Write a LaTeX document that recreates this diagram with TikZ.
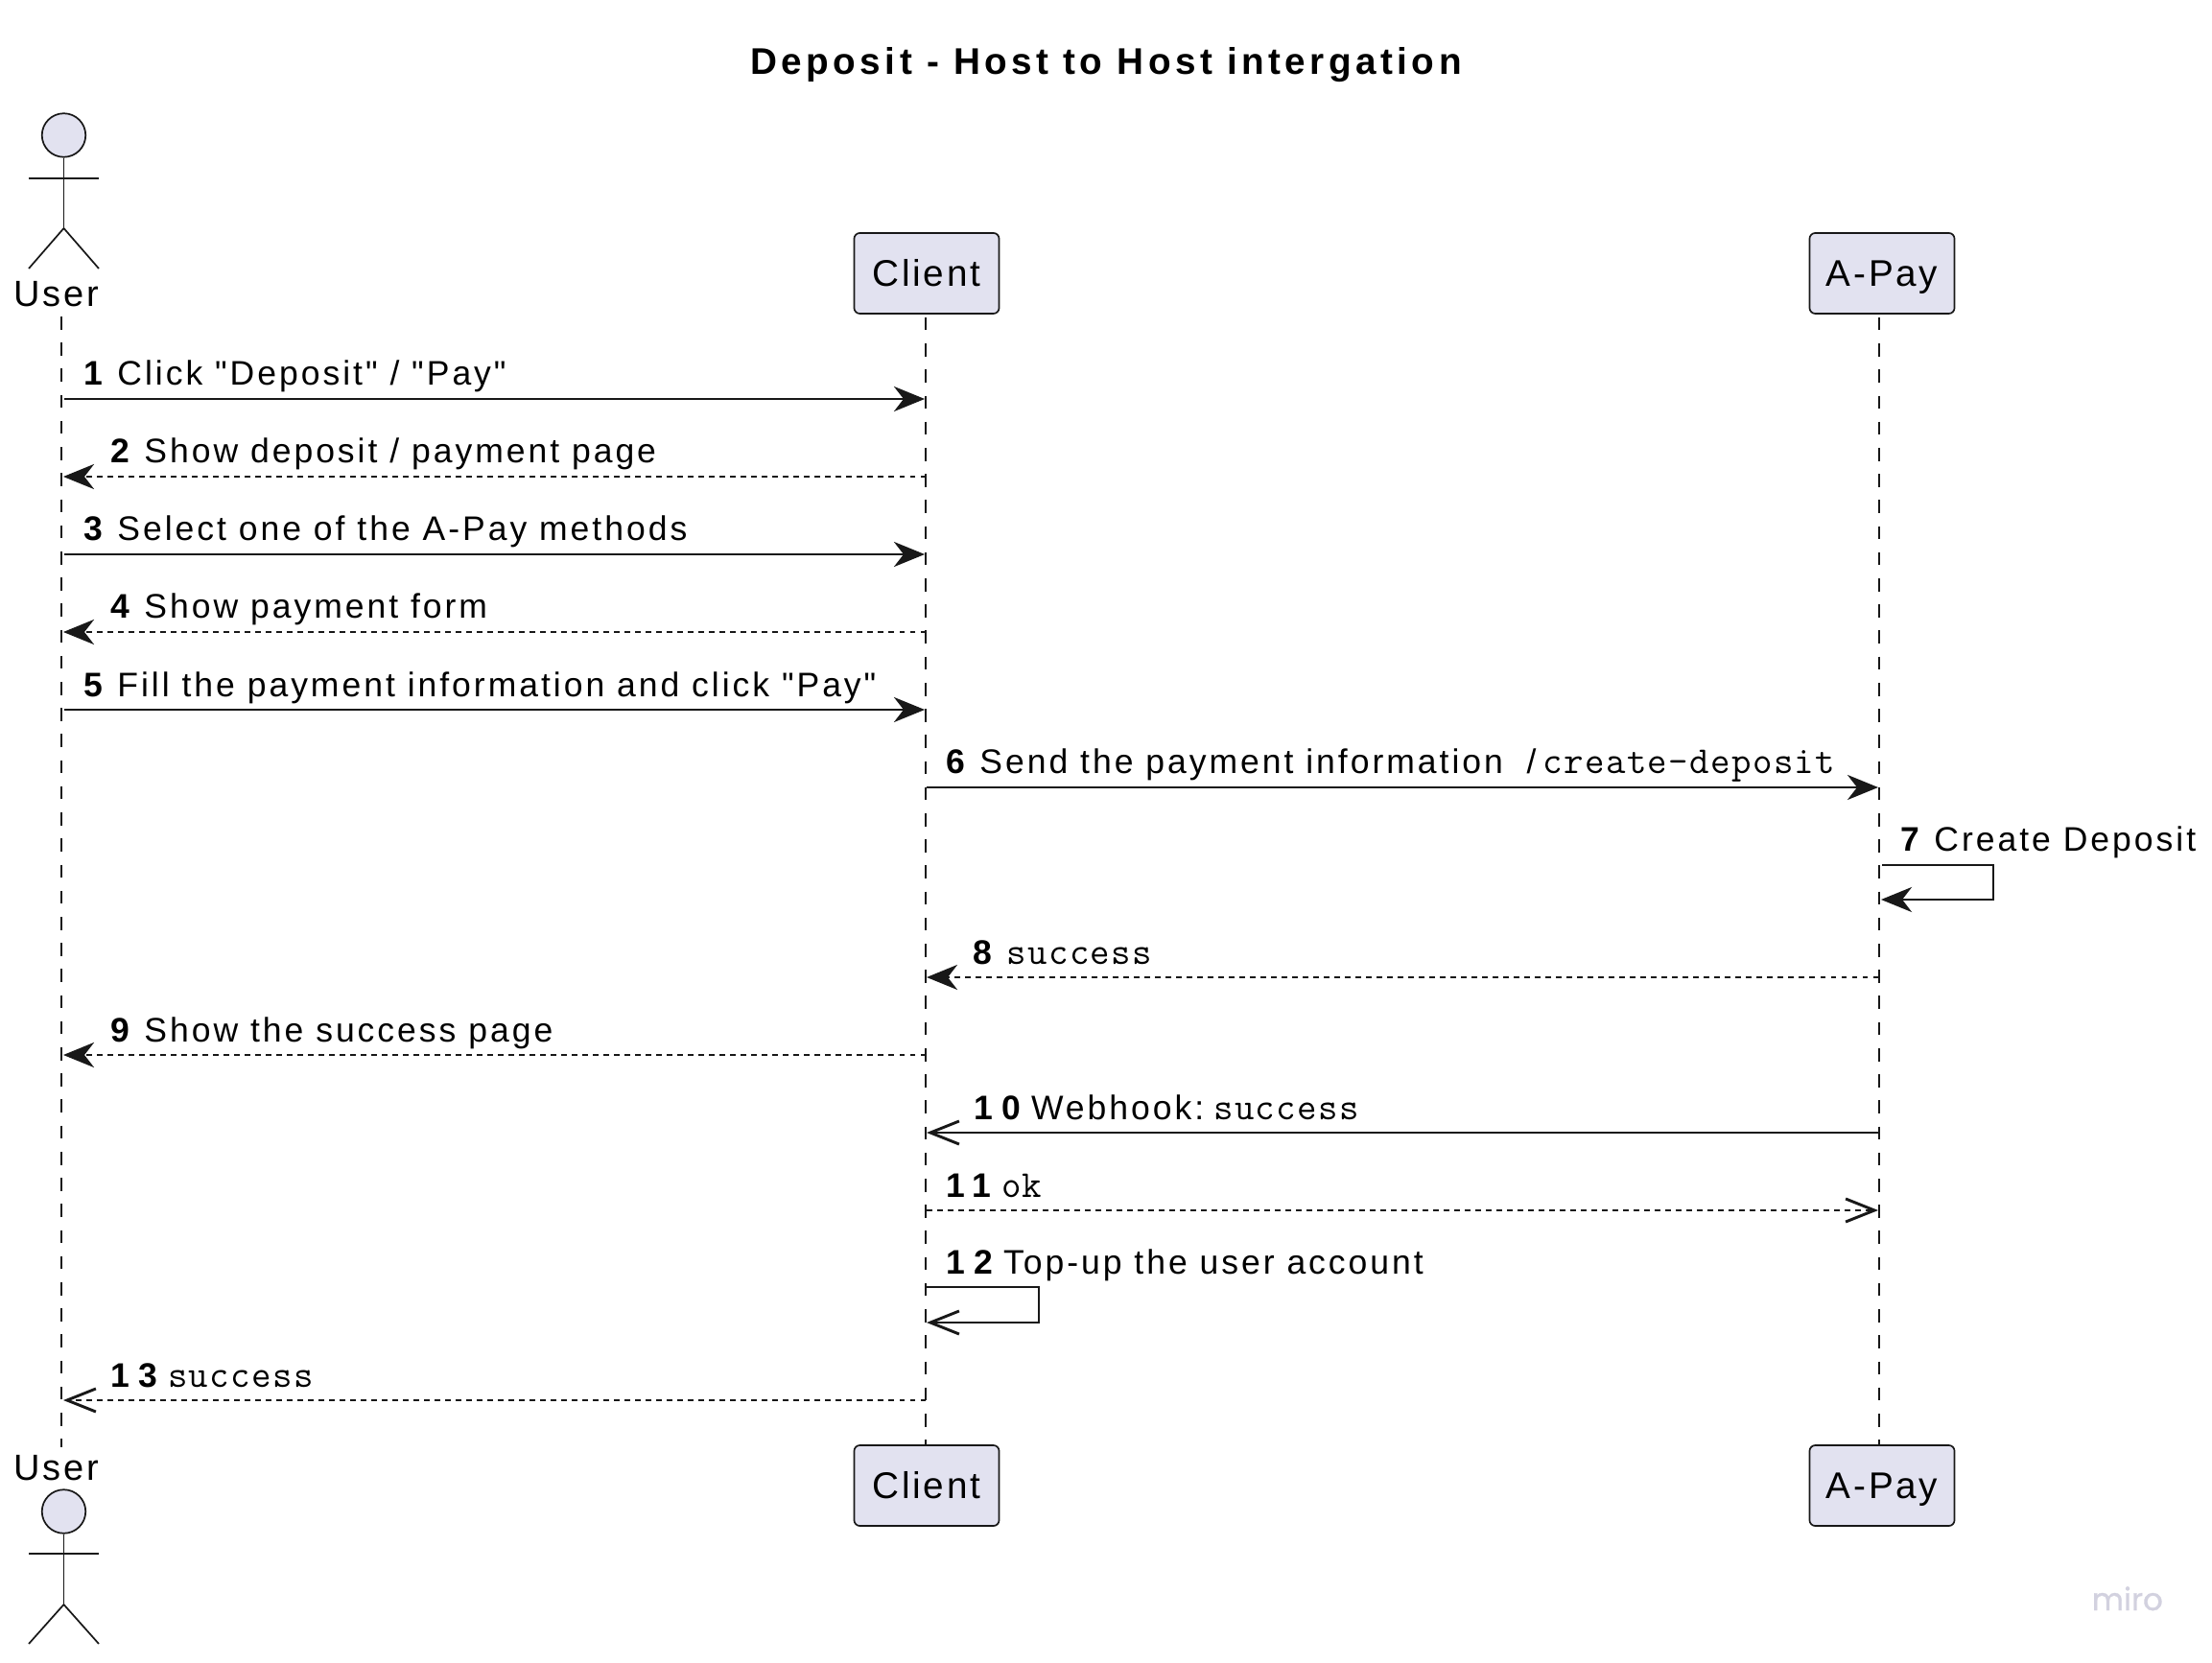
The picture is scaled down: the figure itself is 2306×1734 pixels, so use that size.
\documentclass[tikz,border=0pt]{standalone}
\usepackage{fontspec}
\setmainfont{Liberation Sans}
\newfontfamily\titleFont[LetterSpace=11.5]{Liberation Sans}
\newfontfamily\partFont[LetterSpace=7]{Liberation Sans}
\newfontfamily\msgFont[LetterSpace=8.4]{Liberation Sans}
\newfontfamily\numFont[LetterSpace=25]{Liberation Sans}
\newfontfamily\codeFont[LetterSpace=3.5]{Latin Modern Mono}
\newfontfamily\markFont[FakeBold=1]{Poppins}
\usetikzlibrary{arrows.meta, positioning}

\definecolor{boxFill}{HTML}{E2E2F0}
\definecolor{lineDark}{HTML}{181818}
\definecolor{markGrey}{HTML}{D2D1DF}

\newcommand{\msgNum}[1]{{\numFont\bfseries #1}\hspace{0.15cm}}
\newcommand{\msgNumWide}[1]{{\numFont\bfseries #1}\hspace{0.11cm}}
\newcommand{\msgCode}[1]{{\codeFont\fontsize{11.3}{13}\selectfont #1}}

\tikzset{
    partBox/.style={draw=lineDark, fill=boxFill, rounded corners=0.06cm, line width=0.017cm, minimum width=1.51cm, minimum height=0.84cm, inner sep=0, text height=0.3cm, text depth=0.03cm, font=\partFont\fontsize{11}{13}\selectfont},
    partLabel/.style={inner sep=0, anchor=base, font=\partFont\fontsize{10.8}{13}\selectfont},
    actorHead/.style={circle, draw=lineDark, fill=boxFill, line width=0.017cm, minimum size=0.455cm, inner sep=0},
    actorLine/.style={draw=lineDark, line width=0.017cm},
    lifeLine/.style={draw=lineDark, line width=0.017cm, dash pattern=on 0.136cm off 0.136cm},
    msgLabel/.style={inner sep=0, anchor=base west, font=\msgFont\fontsize{10.1}{12}\selectfont},
    solidMsg/.style={draw=lineDark, line width=0.029cm, -{Stealth[length=0.32cm, width=0.26cm, inset=0.1cm]}},
    dashMsg/.style={solidMsg, dash pattern=on 0.055cm off 0.055cm},
    openMsg/.style={draw=lineDark, line width=0.029cm, -{Straight Barb[length=0.3cm, width=0.24cm]}},
    openDashMsg/.style={openMsg, dash pattern=on 0.055cm off 0.055cm},
}

\begin{document}
\begin{tikzpicture}[x=0.01cm, y=-0.01cm]
\path[use as bounding box, fill=white] (0,0) rectangle (2306,1734);

\node[inner sep=0, anchor=base, font=\titleFont\bfseries\fontsize{11}{13}\selectfont] (titleText) at (1153,78) {Deposit - Host to Host intergation};

% participants
\node[partBox] (clientTop) at (966,285) {Client};
\node[partBox] (apayTop) at (1962,285) {A-Pay};
\node[partBox] (clientBottom) at (966,1549) {Client};
\node[partBox] (apayBottom) at (1962,1549) {A-Pay};

% user on top
\node[actorHead] (userHeadTop) at (66.5,141) {};
\coordinate (userArmLeftTop) at (30,186);
\coordinate (userArmRightTop) at (103,186);
\coordinate (userHipTop) at (66.5,238);
\coordinate (userFootLeftTop) at (30,280);
\coordinate (userFootRightTop) at (103,280);
\draw[actorLine] (userHeadTop.south) -- (userHipTop);
\draw[actorLine] (userArmLeftTop) -- (userArmRightTop);
\draw[actorLine] (userFootLeftTop) -- (userHipTop) -- (userFootRightTop);
\node[partLabel] (userTop) at (59,320) {User};

% user on bottom
\node[partLabel] (userBottom) at (59,1543) {User};
\node[actorHead] (userHeadBottom) at (66.5,1576) {};
\coordinate (userArmLeftBottom) at (30,1620);
\coordinate (userArmRightBottom) at (103,1620);
\coordinate (userHipBottom) at (66.5,1673);
\coordinate (userFootLeftBottom) at (30,1714);
\coordinate (userFootRightBottom) at (103,1714);
\draw[actorLine] (userHeadBottom.south) -- (userHipBottom);
\draw[actorLine] (userArmLeftBottom) -- (userArmRightBottom);
\draw[actorLine] (userFootLeftBottom) -- (userHipBottom) -- (userFootRightBottom);

% lifelines
\coordinate (userLineTop) at (64,330);
\coordinate (userLineBottom) at (64,1509);
\draw[lifeLine] (userLineTop) -- (userLineBottom);
\draw[lifeLine] ([xshift=-0.01cm, yshift=-0.03cm]clientTop.south) -- ([xshift=-0.01cm]clientBottom.north);
\draw[lifeLine] ([xshift=-0.03cm, yshift=-0.03cm]apayTop.south) -- ([xshift=-0.03cm]apayBottom.north);

% messages
\coordinate (u1) at (67,416);
\coordinate (c1) at (964,416);
\draw[solidMsg] (u1) -- (c1);
\node[msgLabel] (m1) at (87,402) {\msgNum{1}Click "Deposit" / "Pay"};

\coordinate (c2) at (965,497);
\coordinate (u2) at (66,497);
\draw[dashMsg] (c2) -- (u2);
\node[msgLabel] (m2) at (115,483) {\msgNum{2}Show deposit / payment page};

\coordinate (u3) at (67,578);
\coordinate (c3) at (964,578);
\draw[solidMsg] (u3) -- (c3);
\node[msgLabel] (m3) at (87,564) {\msgNum{3}Select one of the A-Pay methods};

\coordinate (c4) at (965,659);
\coordinate (u4) at (66,659);
\draw[dashMsg] (c4) -- (u4);
\node[msgLabel] (m4) at (115,645) {\msgNum{4}Show payment form};

\coordinate (u5) at (67,740);
\coordinate (c5) at (964,740);
\draw[solidMsg] (u5) -- (c5);
\node[msgLabel] (m5) at (87,726) {\msgNum{5}Fill the payment information and click "Pay"};

\coordinate (c6) at (966,821);
\coordinate (a6) at (1958,821);
\draw[solidMsg] (c6) -- (a6);
\node[msgLabel] (m6) at (986,807) {\msgNum{6}Send the payment information \hspace{0.12cm}/\hspace{0.07cm}\msgCode{create-deposit}};

\coordinate (a7) at (1962,902);
\coordinate (a7turn) at (2078,902);
\coordinate (a7back) at (2078,938);
\coordinate (a7end) at (1961,938);
\draw[solidMsg] (a7) -- (a7turn) -- (a7back) -- (a7end);
\node[msgLabel] (m7) at (1981,887) {\msgNum{7}Create Deposit};

\coordinate (a8) at (1958,1019);
\coordinate (c8) at (966,1019);
\draw[dashMsg] (a8) -- (c8);
\node[msgLabel] (m8) at (1014,1005) {\msgNum{8}\msgCode{success}};

\coordinate (c9) at (965,1100);
\coordinate (u9) at (66,1100);
\draw[dashMsg] (c9) -- (u9);
\node[msgLabel] (m9) at (115,1086) {\msgNum{9}Show the success page};

\coordinate (a10) at (1958,1181);
\coordinate (c10) at (966,1181);
\draw[openMsg] (a10) -- (c10);
\node[msgLabel] (m10) at (1015,1167) {\msgNumWide{10}Webhook:\hspace{0.1cm}\msgCode{success}};

\coordinate (c11) at (966,1262);
\coordinate (a11) at (1958,1262);
\draw[openDashMsg] (c11) -- (a11);
\node[msgLabel] (m11) at (986,1248) {\msgNumWide{11}\msgCode{ok}};

\coordinate (c12) at (965,1342);
\coordinate (c12turn) at (1083,1342);
\coordinate (c12back) at (1083,1379);
\coordinate (c12end) at (966,1379);
\draw[openMsg] (c12) -- (c12turn) -- (c12back) -- (c12end);
\node[msgLabel] (m12) at (986,1328) {\msgNumWide{12}Top-up the user account};

\coordinate (c13) at (965,1460);
\coordinate (u13) at (66,1460);
\draw[openDashMsg] (c13) -- (u13);
\node[msgLabel] (m13) at (115,1446) {\msgNumWide{13}\msgCode{success}};

\node[inner sep=0, anchor=base west, text=markGrey, font=\markFont\fontsize{9.2}{11}\selectfont] (miroMark) at (2180,1679) {miro};
\end{tikzpicture}
\end{document}
